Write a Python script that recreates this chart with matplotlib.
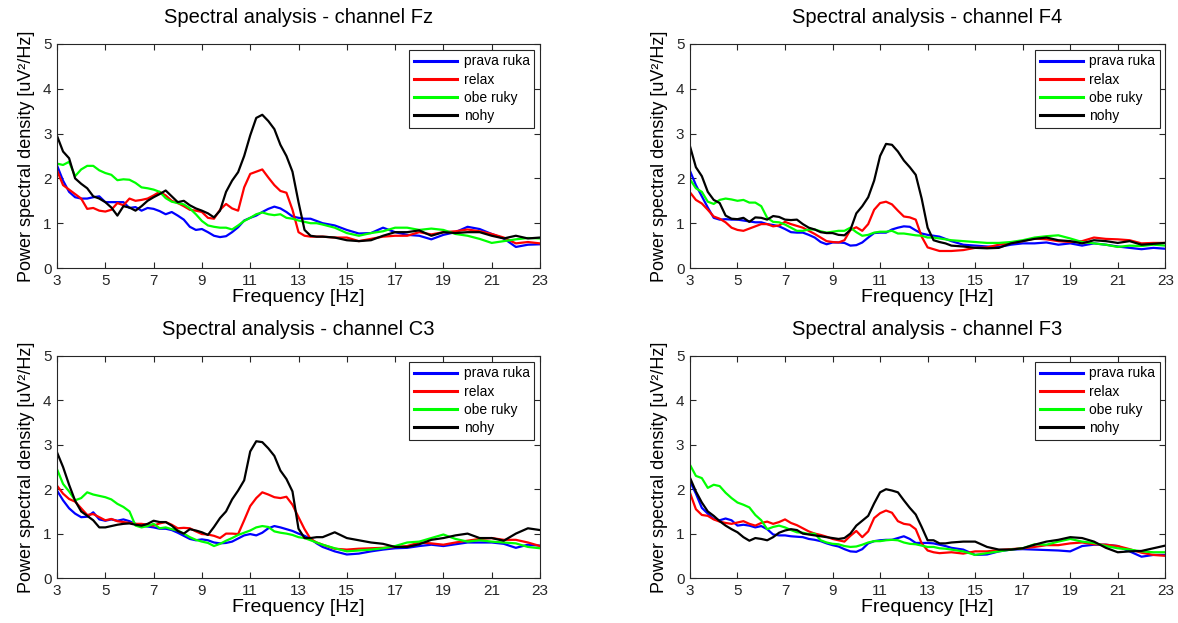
# -*- coding: utf-8 -*-

import numpy as np
import matplotlib
matplotlib.use("Agg")
import matplotlib.pyplot as plt

plt.rcParams['font.family'] = ['Liberation Sans', 'DejaVu Sans']

# frequency grid: 0.25 Hz steps up to 14 Hz, 0.5 Hz steps after
freq = np.concatenate([np.arange(3.0, 14.01, 0.25), np.arange(14.5, 23.01, 0.5)])

labels = ["prava ruka", "relax", "obe ruky", "nohy"]
colors = ["#0000ff", "#ff0000", "#00ff00", "#000000"]
xticks = [3, 5, 7, 9, 11, 13, 15, 17, 19, 21, 23]
yticks = [0, 1, 2, 3, 4, 5]

# channel Fz
fz_prava = [2.29, 1.95, 1.7, 1.58, 1.55, 1.55, 1.58, 1.6, 1.47, 1.47, 1.47, 1.47,
            1.34, 1.36, 1.28, 1.34, 1.32, 1.27, 1.2, 1.25, 1.17, 1.08, 0.92, 0.85,
            0.87, 0.8, 0.72, 0.69, 0.71, 0.8, 0.91, 1.06, 1.12, 1.17, 1.25, 1.32,
            1.37, 1.33, 1.25, 1.15, 1.12, 1.1, 1.1, 1.05, 1.0,
            0.95, 0.85, 0.77, 0.78, 0.9, 0.8, 0.74, 0.72, 0.64, 0.74, 0.8, 0.92,
            0.87, 0.76, 0.66, 0.47, 0.52, 0.53]
fz_relax = [2.18, 1.85, 1.75, 1.65, 1.55, 1.32, 1.34, 1.28, 1.26, 1.3, 1.45, 1.4,
            1.55, 1.5, 1.52, 1.55, 1.62, 1.7, 1.62, 1.5, 1.45, 1.38, 1.3, 1.28,
            1.25, 1.12, 1.1, 1.3, 1.43, 1.33, 1.28, 1.8, 2.1, 2.15, 2.2, 2.02,
            1.85, 1.72, 1.68, 1.3, 0.8, 0.72, 0.7, 0.7, 0.7,
            0.68, 0.68, 0.6, 0.65, 0.7, 0.72, 0.72, 0.8, 0.75, 0.8, 0.82, 0.86,
            0.82, 0.76, 0.68, 0.55, 0.58, 0.55]
fz_obe = [2.33, 2.3, 2.37, 2.05, 2.2, 2.28, 2.28, 2.18, 2.12, 2.08, 1.96, 1.98,
          1.97, 1.9, 1.8, 1.78, 1.75, 1.7, 1.56, 1.48, 1.45, 1.42, 1.33, 1.2,
          1.05, 0.95, 0.92, 0.9, 0.9, 0.86, 0.95, 1.05, 1.12, 1.2, 1.24, 1.2,
          1.18, 1.2, 1.12, 1.1, 1.06, 1.03, 1.0, 1.0, 0.97,
          0.9, 0.78, 0.72, 0.78, 0.82, 0.9, 0.9, 0.85, 0.88, 0.85, 0.76, 0.72,
          0.65, 0.56, 0.6, 0.64, 0.67, 0.66]
fz_nohy = [2.95, 2.6, 2.45, 2.0, 1.88, 1.78, 1.6, 1.55, 1.47, 1.35, 1.17, 1.38,
           1.35, 1.28, 1.38, 1.5, 1.58, 1.65, 1.73, 1.6, 1.47, 1.5, 1.4, 1.33,
           1.28, 1.22, 1.13, 1.28, 1.7, 1.95, 2.14, 2.5, 2.96, 3.35, 3.42, 3.28,
           3.1, 2.75, 2.5, 2.15, 1.47, 0.85, 0.72, 0.7, 0.7,
           0.68, 0.62, 0.6, 0.62, 0.72, 0.8, 0.8, 0.84, 0.72, 0.8, 0.78, 0.8,
           0.8, 0.72, 0.66, 0.72, 0.66, 0.68]

# channel F4
f4_prava = [2.17, 1.85, 1.6, 1.35, 1.12, 1.08, 1.09, 1.08, 1.08, 1.06, 1.04, 1.02,
            1.02, 0.98, 0.96, 0.93, 0.87, 0.8, 0.79, 0.79, 0.74, 0.68, 0.58, 0.53,
            0.57, 0.57, 0.56, 0.5, 0.51, 0.57, 0.68, 0.78, 0.79, 0.79, 0.86, 0.9,
            0.93, 0.92, 0.84, 0.77, 0.74, 0.72, 0.7, 0.65, 0.6,
            0.52, 0.5, 0.48, 0.47, 0.52, 0.55, 0.55, 0.57, 0.52, 0.55, 0.5, 0.55,
            0.52, 0.48, 0.45, 0.42, 0.45, 0.43]
f4_relax = [1.69, 1.52, 1.44, 1.3, 1.15, 1.1, 1.02, 0.9, 0.85, 0.83, 0.88, 0.93,
            0.98, 0.98, 0.93, 0.95, 1.03, 0.98, 0.94, 0.9, 0.83, 0.76, 0.68, 0.6,
            0.58, 0.57, 0.62, 0.85, 0.91, 0.83, 0.98, 1.3, 1.45, 1.48, 1.42, 1.28,
            1.15, 1.13, 1.08, 0.7, 0.46, 0.42, 0.38, 0.38, 0.38,
            0.4, 0.45, 0.46, 0.52, 0.56, 0.6, 0.66, 0.64, 0.6, 0.58, 0.6, 0.68,
            0.65, 0.64, 0.62, 0.55, 0.56, 0.56]
f4_obe = [1.98, 1.78, 1.7, 1.48, 1.43, 1.52, 1.55, 1.53, 1.5, 1.52, 1.46, 1.46,
          1.38, 1.12, 1.03, 1.02, 0.97, 0.9, 0.83, 0.83, 0.86, 0.86, 0.82, 0.79,
          0.81, 0.83, 0.83, 0.9, 0.8, 0.72, 0.74, 0.79, 0.81, 0.81, 0.83, 0.77,
          0.77, 0.75, 0.73, 0.72, 0.68, 0.68, 0.66, 0.64, 0.62,
          0.6, 0.58, 0.56, 0.56, 0.58, 0.62, 0.68, 0.71, 0.73, 0.66, 0.58, 0.55,
          0.52, 0.47, 0.5, 0.49, 0.52, 0.5]
f4_nohy = [2.72, 2.25, 2.05, 1.7, 1.52, 1.45, 1.17, 1.1, 1.09, 1.12, 1.03, 1.13,
           1.12, 1.08, 1.16, 1.14, 1.08, 1.07, 1.08, 0.98, 0.9, 0.86, 0.8, 0.78,
           0.78, 0.74, 0.73, 0.85, 1.22, 1.38, 1.58, 1.95, 2.5, 2.77, 2.75, 2.6,
           2.4, 2.25, 2.08, 1.55, 0.9, 0.62, 0.58, 0.55, 0.5,
           0.48, 0.45, 0.44, 0.45, 0.55, 0.6, 0.65, 0.68, 0.62, 0.6, 0.55, 0.62,
           0.6, 0.56, 0.6, 0.52, 0.54, 0.56]

# channel C3
c3_prava = [1.97, 1.75, 1.57, 1.45, 1.37, 1.38, 1.48, 1.32, 1.29, 1.32, 1.29, 1.32,
            1.28, 1.22, 1.18, 1.16, 1.14, 1.11, 1.11, 1.08, 1.02, 0.95, 0.88, 0.85,
            0.87, 0.85, 0.8, 0.78, 0.79, 0.82, 0.89, 0.96, 0.99, 0.96, 1.02, 1.12,
            1.17, 1.14, 1.1, 1.06, 1.0, 0.95, 0.88, 0.78, 0.7,
            0.6, 0.53, 0.55, 0.6, 0.64, 0.67, 0.68, 0.72, 0.75, 0.72, 0.76, 0.8,
            0.8, 0.8, 0.77, 0.68, 0.75, 0.73]
c3_relax = [2.08, 1.9, 1.78, 1.72, 1.57, 1.42, 1.44, 1.37, 1.3, 1.33, 1.28, 1.26,
            1.24, 1.22, 1.22, 1.2, 1.18, 1.23, 1.26, 1.2, 1.12, 1.13, 1.12, 1.05,
            0.99, 0.98, 0.95, 0.9, 1.0, 1.0, 0.99, 1.3, 1.62, 1.8, 1.93, 1.88,
            1.82, 1.8, 1.83, 1.65, 1.37, 1.1, 0.88, 0.8, 0.75,
            0.66, 0.64, 0.66, 0.67, 0.68, 0.7, 0.72, 0.8, 0.78, 0.75, 0.8, 0.84,
            0.88, 0.9, 0.86, 0.86, 0.8, 0.72]
c3_obe = [2.45, 2.12, 1.95, 1.75, 1.8, 1.93, 1.88, 1.85, 1.82, 1.77, 1.67, 1.6,
          1.5, 1.18, 1.14, 1.17, 1.22, 1.12, 1.14, 1.1, 1.07, 1.0, 0.92, 0.86,
          0.82, 0.79, 0.72, 0.77, 0.84, 0.9, 0.97, 1.02, 1.07, 1.14, 1.17, 1.15,
          1.05, 1.02, 1.0, 0.97, 0.92, 0.9, 0.85, 0.8, 0.75,
          0.67, 0.6, 0.62, 0.64, 0.67, 0.72, 0.8, 0.82, 0.9, 0.98, 0.88, 0.82,
          0.85, 0.82, 0.8, 0.78, 0.7, 0.67]
c3_nohy = [2.83, 2.5, 2.1, 1.74, 1.5, 1.4, 1.3, 1.14, 1.14, 1.17, 1.2, 1.22,
           1.23, 1.2, 1.18, 1.22, 1.29, 1.26, 1.26, 1.18, 1.06, 1.0, 1.1, 1.07,
           1.03, 0.97, 1.15, 1.35, 1.5, 1.77, 1.97, 2.2, 2.85, 3.08, 3.06, 2.92,
           2.75, 2.42, 2.23, 1.95, 1.11, 0.9, 0.9, 0.92, 0.92,
           1.03, 0.9, 0.85, 0.8, 0.77, 0.7, 0.7, 0.76, 0.86, 0.9, 0.96, 1.0,
           0.9, 0.9, 0.84, 1.0, 1.12, 1.08]

# channel F3
f3_prava = [2.18, 1.9, 1.58, 1.45, 1.33, 1.3, 1.34, 1.3, 1.18, 1.2, 1.18, 1.14,
            1.17, 1.1, 0.98, 0.96, 0.96, 0.94, 0.93, 0.92, 0.88, 0.86, 0.83, 0.78,
            0.74, 0.71, 0.65, 0.6, 0.59, 0.65, 0.78, 0.83, 0.85, 0.86, 0.86, 0.9,
            0.94, 0.88, 0.79, 0.79, 0.79, 0.78, 0.75, 0.72, 0.68,
            0.64, 0.52, 0.53, 0.6, 0.64, 0.65, 0.64, 0.63, 0.62, 0.6, 0.72, 0.75,
            0.75, 0.72, 0.6, 0.48, 0.52, 0.52]
f3_relax = [1.92, 1.55, 1.42, 1.4, 1.32, 1.27, 1.24, 1.22, 1.25, 1.28, 1.22, 1.18,
            1.24, 1.27, 1.22, 1.26, 1.32, 1.24, 1.19, 1.12, 1.05, 1.0, 0.97, 0.93,
            0.88, 0.85, 0.82, 0.95, 1.06, 0.92, 1.05, 1.35, 1.46, 1.52, 1.47, 1.28,
            1.22, 1.2, 1.1, 0.78, 0.62, 0.58, 0.56, 0.57, 0.58,
            0.55, 0.6, 0.6, 0.63, 0.65, 0.67, 0.7, 0.74, 0.74, 0.78, 0.8, 0.76,
            0.75, 0.72, 0.65, 0.57, 0.52, 0.5]
f3_obe = [2.55, 2.3, 2.25, 2.03, 2.1, 2.07, 1.92, 1.8, 1.7, 1.65, 1.59, 1.42,
          1.3, 1.1, 1.15, 1.18, 1.14, 1.08, 1.03, 1.02, 0.99, 1.0, 0.85, 0.8,
          0.77, 0.76, 0.72, 0.7, 0.71, 0.75, 0.8, 0.83, 0.83, 0.85, 0.86, 0.85,
          0.8, 0.77, 0.76, 0.73, 0.7, 0.7, 0.67, 0.66, 0.64,
          0.6, 0.52, 0.56, 0.6, 0.64, 0.67, 0.76, 0.75, 0.82, 0.88, 0.82, 0.79,
          0.72, 0.67, 0.64, 0.6, 0.58, 0.58]
f3_nohy = [2.26, 1.95, 1.7, 1.5, 1.4, 1.28, 1.18, 1.1, 1.03, 0.92, 0.84, 0.9,
           0.88, 0.85, 0.92, 1.02, 1.07, 1.1, 1.08, 1.0, 0.98, 0.96, 0.94, 0.92,
           0.9, 0.88, 0.9, 1.0, 1.18, 1.29, 1.4, 1.68, 1.93, 2.0, 1.97, 1.93,
           1.75, 1.58, 1.43, 1.15, 0.85, 0.85, 0.78, 0.78, 0.8,
           0.82, 0.82, 0.7, 0.64, 0.64, 0.67, 0.75, 0.82, 0.86, 0.92, 0.9, 0.82,
           0.68, 0.58, 0.6, 0.61, 0.67, 0.73]

panels = [
    ("Fz", [fz_prava, fz_relax, fz_obe, fz_nohy]),
    ("F4", [f4_prava, f4_relax, f4_obe, f4_nohy]),
    ("C3", [c3_prava, c3_relax, c3_obe, c3_nohy]),
    ("F3", [f3_prava, f3_relax, f3_obe, f3_nohy]),
]

# axes boxes in figure fraction: left, bottom, width, height
positions = [
    [0.0484, 0.5698, 0.4100, 0.3596],
    [0.5857, 0.5698, 0.4035, 0.3596],
    [0.0484, 0.0722, 0.4100, 0.3564],
    [0.5857, 0.0722, 0.4035, 0.3564],
]

fig = plt.figure(figsize=(11.78, 6.23), dpi=100)

for (name, series), pos in zip(panels, positions):
    ax = fig.add_axes(pos)
    for values, lab, col in zip(series, labels, colors):
        ax.plot(freq, values, color=col, linewidth=1.6, label=lab)

    ax.set_xlim(3, 23)
    ax.set_ylim(0, 5)
    ax.set_xticks(xticks)
    ax.set_yticks(yticks)
    ax.tick_params(direction='in', top=True, right=True, length=4, width=0.8,
                   labelsize=11, colors='#262626', pad=4)
    for sp in ax.spines.values():
        sp.set_color('#262626')
        sp.set_linewidth(0.8)

    ax.set_title("Spectral analysis - channel " + name, fontsize=14.5, pad=15)
    ax.set_xlabel("Frequency [Hz]", fontsize=14, labelpad=1)
    ax.set_ylabel("Power spectral density [uV\u00b2/Hz]", fontsize=13, labelpad=6)

    leg = ax.legend(loc='upper right', fontsize=10, handlelength=3.1,
                    handletextpad=0.45, labelspacing=0.3, borderpad=0.35,
                    borderaxespad=0.4, fancybox=False, framealpha=1)
    leg.get_frame().set_edgecolor('#262626')
    leg.get_frame().set_linewidth(0.8)
    for line in leg.get_lines():
        line.set_linewidth(2.2)

fig.savefig("out.png", dpi=100)
